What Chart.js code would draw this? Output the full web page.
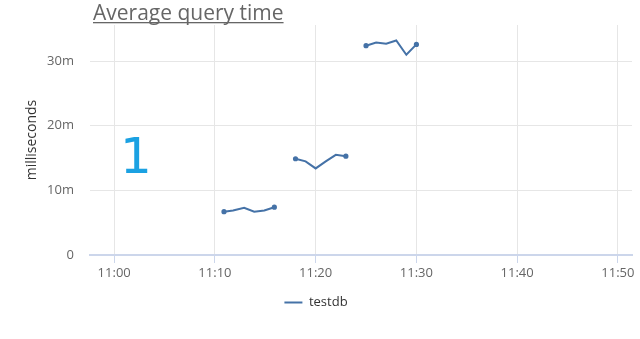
<!DOCTYPE html>
<html>
<head>
<meta charset="utf-8">
<script src="https://cdn.jsdelivr.net/npm/chart.js@4/dist/chart.umd.min.js"></script>
<style>
  html, body { margin: 0; padding: 0; background: #fff; }
  #wrap { width: 640px; height: 339px; position: relative; }
</style>
</head>
<body>
<div id="wrap"><canvas id="query-chart"></canvas></div>
<script>
// Sample times, in minutes after 11:00 (nulls break the line)
const sampleMinutes = [10.9, 11.8, 12.9, 13.9, 14.9, 15.9, 17, 18, 19, 20, 21, 22, 23, 24, 25, 26, 27, 28, 29, 30];
const queryMs = [6.7, 6.9, 7.3, 6.7, 6.9, 7.4, null, 14.9, 14.5, 13.4, 14.5, 15.5, 15.3, null, 32.4, 32.9, 32.7, 33.2, 31.0, 32.6];

const xTickValues = [0, 10, 20, 30, 40, 50];
const xTickLabels = ["11:00", "11:10", "11:20", "11:30", "11:40", "11:50"];
const yTickValues = [0, 10, 20, 30];
const yTickLabels = ["0", "10m", "20m", "30m"];

const chartTitle = "Average query time";
const seriesName = "testdb";
const panelNumber = "1";

const FONT = "'Open Sans', sans-serif";

// Draws the underlined title and the big panel number
const overlayText = {
  id: "overlayText",
  afterDraw(chart) {
    const ctx = chart.ctx;
    ctx.save();
    ctx.font = "21px " + FONT;
    ctx.fillStyle = "#666666";
    ctx.textBaseline = "alphabetic";
    ctx.textAlign = "left";
    const w = ctx.measureText(chartTitle).width;
    ctx.fillText(chartTitle, 93, 20);
    ctx.fillRect(93, 22, w, 1.3);

    ctx.font = "50px 'DejaVu Sans', sans-serif";
    ctx.fillStyle = "#1ba1e2";
    ctx.fillText(panelNumber, 120, 173);
    ctx.restore();
  }
};

const ctx = document.getElementById("query-chart").getContext("2d");
new Chart(ctx, {
  type: "line",
  data: {
    datasets: [{
      label: seriesName,
      data: sampleMinutes.map((m, i) => ({ x: m, y: queryMs[i] })),
      borderColor: "#4572a7",
      backgroundColor: "#4572a7",
      borderWidth: 2,
      tension: 0,
      spanGaps: false,
      fill: false,
      pointBorderWidth: 2,
      pointRadius: c => {
        const i = c.dataIndex;
        const prev = queryMs[i - 1], next = queryMs[i + 1];
        return (prev == null || next == null) ? 1.6 : 0;
      },
      pointHoverRadius: 0,
    }],
  },
  options: {
    responsive: true,
    maintainAspectRatio: false,
    animation: false,
    layout: { padding: { top: 25, right: 8, bottom: 20, left: 0 } },
    scales: {
      x: {
        type: "linear",
        min: -2.4,
        max: 51.4,
        afterBuildTicks: s => { s.ticks = xTickValues.map(v => ({ value: v })); },
        afterFit: s => { s.height = 30; },
        grid: { color: "#e6e6e6", tickColor: "#ccd6eb", tickLength: 8 },
        border: { color: "#ccd6eb", width: 2 },
        ticks: {
          color: "#666666",
          font: { family: FONT, size: 13 },
          padding: 2,
          maxRotation: 0,
          callback: v => xTickLabels[xTickValues.indexOf(v)],
        },
      },
      y: {
        min: 0,
        max: 35.6,
        afterBuildTicks: s => { s.ticks = yTickValues.map(v => ({ value: v })); },
        afterFit: s => { s.width = 90; },
        grid: { color: "#e6e6e6", drawTicks: false },
        border: { display: false },
        ticks: {
          color: "#666666",
          font: { family: FONT, size: 13 },
          padding: 16,
          callback: v => yTickLabels[yTickValues.indexOf(v)],
        },
        title: {
          display: true,
          text: "milliseconds",
          color: "#333333",
          font: { family: FONT, size: 14 },
          padding: { top: 24, bottom: 0 },
        },
      },
    },
    plugins: {
      title: { display: false },
      tooltip: { enabled: false },
      legend: {
        position: "bottom",
        labels: {
          usePointStyle: true,
          pointStyle: "line",
          pointStyleWidth: 18,
          boxHeight: 12,
          color: "#333333",
          font: { family: FONT, size: 13 },
          padding: 11,
        },
      },
    },
  },
  plugins: [overlayText],
});
</script>
</body>
</html>
